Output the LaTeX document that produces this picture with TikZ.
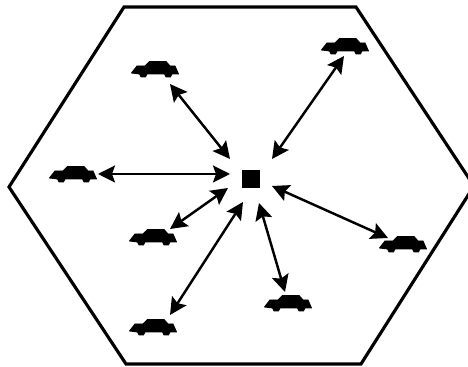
\documentclass[tikz,border=0pt]{standalone}
\usetikzlibrary{arrows.meta}

\tikzset{
  car/.style={minimum width=1.1cm,minimum height=0.4cm,inner sep=0pt,path picture={
    \filldraw[line width=0.5pt,line join=round] (-23.5,4) -- (-18,-3) -- (-10,-3) -- (-5.5,-7.5) -- (11,-7.5) -- (15,-3) -- (20,-3) -- (23.5,5)
      -- (17,5) -- (15.5,8) -- (11,8) -- (9.5,5) -- (-8,5) -- (-9.5,8) -- (-14,8) -- (-15.5,5) -- cycle;}},
  link/.style={line width=1.4pt,{Stealth[length=3.4mm,width=3.4mm,inset=0.6mm]}-{Stealth[length=3.4mm,width=3.4mm,inset=0.6mm]}}
}

\begin{document}
\begin{tikzpicture}[x=0.02cm,y=-0.02cm]
\useasboundingbox (0,0) rectangle (468,367);
\path (251,179) node[fill,minimum size=0.35cm,inner sep=0pt] (S) {};
\path (155,69) node[car] (A) {};
\path (345,46) node[car] (B) {};
\path (73,174) node[car] (C) {};
\path (153,237) node[car] (D) {};
\path (403,244) node[car] (E) {};
\path (288,303) node[car] (F) {};
\path (153,327) node[car] (G) {};

\draw[line width=1.8pt,line join=miter] (124,7) -- (356,7) -- (474,186) -- (361,364) -- (126,364) -- (9,187) -- cycle;

\draw[link] ([shift={(15,15)}]A.center) -- ([shift={(-21,-20)}]S.center);
\draw[link] ([shift={(-1,10)}]B.center) -- ([shift={(21,-20)}]S.center);
\draw[link] ([shift={(25,0)}]C.center) -- ([shift={(-21,-5)}]S.center);
\draw[link] ([shift={(17,-8)}]D.center) -- ([shift={(-23,9)}]S.center);
\draw[link] ([shift={(-15,-6)}]E.center) -- ([shift={(21,7)}]S.center);
\draw[link] ([shift={(-3,-11)}]F.center) -- ([shift={(8,24)}]S.center);
\draw[link] ([shift={(17,-12)}]G.center) -- ([shift={(-8,23)}]S.center);
\end{tikzpicture}
\end{document}
